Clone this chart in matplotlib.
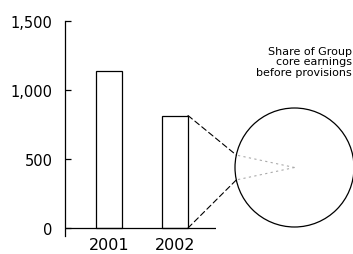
import numpy as np
import matplotlib
matplotlib.use("Agg")
import matplotlib.pyplot as plt
from matplotlib.patches import Circle, ConnectionPatch

# Data
years = ["2001", "2002"]
values = [1140, 815]
yticks = [0, 500, 1000, 1500]
ytick_labels = ["0", "500", "1,000", "1,500"]
share_pct = 6.7  # share of Group core earnings before provisions (estimated)
caption = "Share of Group\ncore earnings\nbefore provisions"

W, H = 353, 255
fig = plt.figure(figsize=(W / 100, H / 100), dpi=100)
fig.patch.set_facecolor("white")

def fbox(x0, y0, x1, y1):
    # pixel box (top-left origin) -> figure fraction rect
    return [x0 / W, 1 - y1 / H, (x1 - x0) / W, (y1 - y0) / H]

# Bar axes
ax = fig.add_axes(fbox(65, 22, 216, 237))
bw = 0.394
x = np.arange(len(years))
bars = ax.bar(x, values, width=bw, color="white", edgecolor="black", linewidth=0.9, zorder=2)
ax.set_xlim(-0.667, 1.621)
ax.set_ylim(-58, 1500)
ax.axhline(0, color="black", lw=0.9, zorder=3)
for s in ["top", "right", "bottom"]:
    ax.spines[s].set_visible(False)
ax.spines["left"].set_linewidth(0.9)
ax.set_yticks(yticks)
ax.set_yticklabels(ytick_labels)
ax.tick_params(axis="y", direction="in", length=4, width=0.9, pad=9, labelsize=10.5)
ax.set_xticks(x)
ax.set_xticklabels(years)
ax.tick_params(axis="x", length=0, pad=1, labelsize=11.5)
ax.patch.set_alpha(0)

# Circle (pie) axes
cax = fig.add_axes(fbox(235, 109, 354, 228))
cax.set_xlim(-1, 1)
cax.set_ylim(-1, 1)
cax.axis("off")
cax.add_patch(Circle((0, 0), 1, fill=False, edgecolor="black", lw=0.9, clip_on=False))

half = share_pct / 100 * 360 / 2
a1 = np.deg2rad(180 - half)
a2 = np.deg2rad(180 + half)
p1 = (np.cos(a1), np.sin(a1))
p2 = (np.cos(a2), np.sin(a2))
for p in (p1, p2):
    cax.plot([0, p[0]], [0, p[1]], color="#aaaaaa", lw=0.8, ls=(0, (2, 3)), clip_on=False)

xr = x[1] + bw / 2
con1 = ConnectionPatch(xyA=(xr, values[1]), coordsA=ax.transData,
                       xyB=p1, coordsB=cax.transData,
                       color="black", lw=0.8, ls=(0, (5, 3)))
con2 = ConnectionPatch(xyA=(xr, 0), coordsA=ax.transData,
                       xyB=p2, coordsB=cax.transData,
                       color="black", lw=0.8, ls=(0, (5, 3)))
fig.add_artist(con1)
fig.add_artist(con2)

fig.text(352 / W, 1 - 47 / H, caption, ha="right", va="top", fontsize=8,
         linespacing=1.05, color="black")

fig.savefig("out.png", dpi=100, facecolor="white")
